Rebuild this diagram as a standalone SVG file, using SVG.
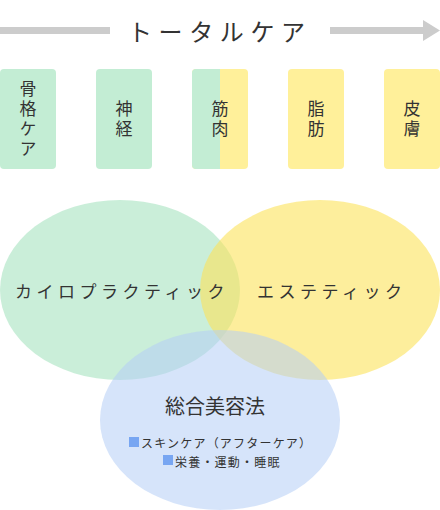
<svg xmlns="http://www.w3.org/2000/svg" width="440" height="510" viewBox="0 0 440 510">
<style>
text{font-family:"Noto Sans CJK JP","Noto Sans",sans-serif;fill:#333;dominant-baseline:central}
.box-g{fill:#c3edd4}
.box-y{fill:#fff09a}
.bt{font-size:17px;writing-mode:vertical-rl;text-orientation:upright;letter-spacing:3px}
.lbl{font-size:17px;letter-spacing:4.5px}
.sm{font-size:12px;letter-spacing:1.2px}
.sq{fill:#78a6f2}
.bar{fill:#cccccc}
</style>
<rect width="440" height="510" fill="#ffffff"/>
<g id="header">
<rect class="bar" x="0" y="27" width="110" height="7"/>
<rect class="bar" x="330" y="27" width="95" height="7"/>
<polygon class="bar" points="423,20 440,30.5 423,41"/>
<text x="128" y="30" style="font-size:24px;letter-spacing:6.6px">トータルケア</text>
</g>
<g id="box-kokkaku">
<rect class="box-g" x="0" y="69" width="56" height="100" rx="4"/>
<text class="bt" x="28" y="80.5">骨格ケア</text>
</g>
<g id="box-shinkei">
<rect class="box-g" x="96" y="69" width="56" height="100" rx="4"/>
<text class="bt" x="124" y="100.5">神経</text>
</g>
<g id="box-kinniku">
<rect class="box-y" x="192" y="69" width="56" height="100" rx="4"/>
<path class="box-g" d="M220,69 H196 A4,4 0 0 0 192,73 V165 A4,4 0 0 0 196,169 H220 Z"/>
<text class="bt" x="220" y="100.5">筋肉</text>
</g>
<g id="box-shibou">
<rect class="box-y" x="288" y="69" width="56" height="100" rx="4"/>
<text class="bt" x="316" y="100.5">脂肪</text>
</g>
<g id="box-hifu">
<rect class="box-y" x="384" y="69" width="56" height="100" rx="4"/>
<text class="bt" x="412" y="100.5">皮膚</text>
</g>
<g id="venn">
<ellipse id="circle-chiro" cx="120" cy="290" rx="120" ry="90" fill="#a6e2bf" fill-opacity="0.6"/>
<ellipse id="circle-esthe" cx="320" cy="290" rx="120" ry="90" fill="#fbe35a" fill-opacity="0.6"/>
<ellipse id="circle-sogo" cx="220" cy="420" rx="120" ry="90" fill="#b4cdf6" fill-opacity="0.55"/>
</g>
<g id="labels">
<text class="lbl" x="15" y="290">カイロプラクティック</text>
<text class="lbl" x="257" y="290">エステティック</text>
<text x="215" y="405" style="font-size:20px;text-anchor:middle">総合美容法</text>
<rect class="sq" x="129" y="437" width="10" height="10"/>
<rect class="sq" x="163" y="455" width="10" height="10"/>
<text class="sm"><tspan x="141" y="442">スキンケア（アフターケア）</tspan><tspan x="175" y="460.5">栄養・運動・睡眠</tspan></text>
</g>
</svg>
